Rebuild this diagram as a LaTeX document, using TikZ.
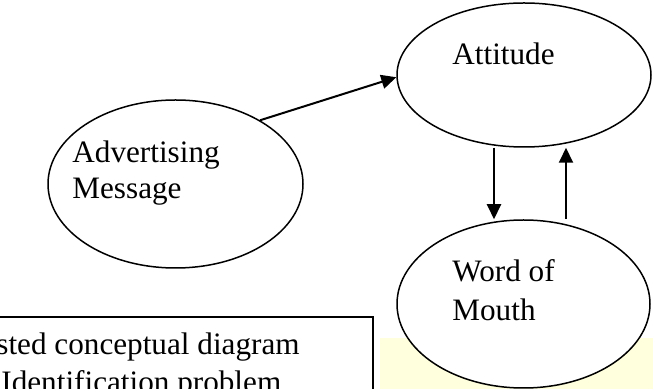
\documentclass[tikz,border=0pt]{standalone}
\usepackage{fontspec}
\setmainfont{Liberation Serif}
\usetikzlibrary{shapes.geometric,arrows.meta}

\tikzset{
    bubble/.style={draw, ellipse, line width=0.75pt, fill=white, inner sep=0pt},
    lbl/.style={anchor=base west, inner sep=0pt, align=left,
        font=\fontsize{15.6}{18.2}\selectfont},
    arr/.style={line width=1pt, -{Triangle[length=7.5pt,width=7pt]}}
}

\begin{document}
\begin{tikzpicture}[x=0.5pt, y=-0.5pt]
        \useasboundingbox (0,0) rectangle (653,389);
        \clip (0,0) rectangle (653,389);

        % fill in yellow strip
        \fill[color={rgb,255:red,255;green,255;blue,222}] (380,338) rectangle (653,395);

        % draw the three bubbles
        \node[bubble, minimum width=127pt, minimum height=72pt] (att) at (524,75) {};
        \node[bubble, minimum width=127.5pt, minimum height=84pt] (adv) at (175.5,184) {};
        \node[bubble, minimum width=126.5pt, minimum height=84pt] (wom) at (523.5,304) {};

        % draw labels (base = last line)
        \node[lbl] (attText) at (452,65) {Attitude};
        \node[lbl] (advText) at (72,199) {Advertising\\Message};
        \node[lbl] (womText) at (452,321) {Word of\\[1.3pt]Mouth};

        % draw arrows
        \coordinate (dn) at (494,0);
        \coordinate (up) at (566,0);
        \draw[arr] (adv.37) -- (att.181);
        \draw[arr] (att.south -| dn) -- (wom.north -| dn);
        \draw[arr] (wom.north -| up) -- (att.south -| up);

        % draw caption box
        \draw[line width=1pt, fill=white] (-10,317) rectangle (373,400);
        \node[lbl] (capA) at (-4,355) {sted conceptual diagram};
        \node[lbl] (capB) at (1,393) {Identification problem};
    \end{tikzpicture}
\end{document}
